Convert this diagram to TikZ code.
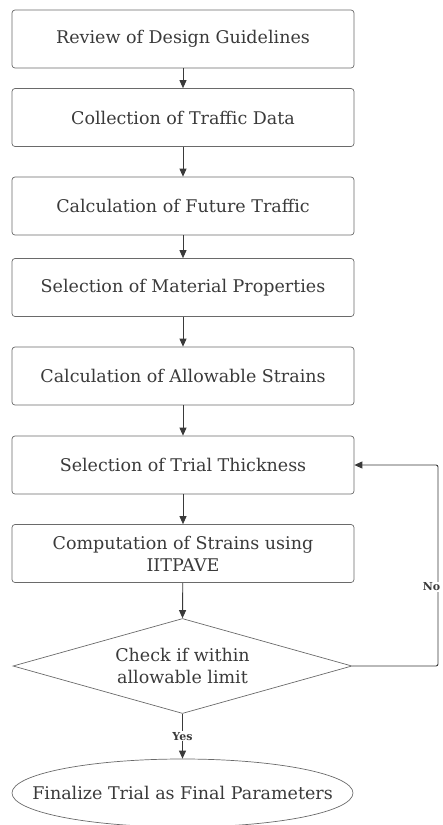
\documentclass[tikz,border=0pt]{standalone}
\usepackage{fontspec}
\setmainfont{DejaVu Serif}
\usetikzlibrary{shapes.geometric,arrows.meta}
\definecolor{boxline}{HTML}{6A6A6A}
\definecolor{inkgray}{HTML}{3A3A3A}
\begin{document}
\begin{tikzpicture}[x=1pt,y=-1pt]

    \tikzset{
      procbox/.style={
        draw=boxline,
        line width=0.7pt,
        rounded corners=3pt,
        minimum width=342pt,
        minimum height=58pt,
        inner sep=0pt,
        align=center,
        text=inkgray,
        font=\fontsize{17.5}{22}\selectfont,
      },
      decision/.style={
        draw=boxline,
        line width=0.7pt,
        diamond,
        aspect=3.57,
        minimum width=339pt,
        minimum height=95pt,
        inner sep=0pt,
        align=center,
        text=inkgray,
        font=\fontsize{17.5}{22}\selectfont,
      },
      terminal/.style={
        draw=boxline,
        line width=0.7pt,
        ellipse,
        minimum width=341pt,
        minimum height=68pt,
        inner xsep=-40pt,
        inner ysep=0pt,
        text=inkgray,
        font=\fontsize{17.5}{22}\selectfont,
      },
      flowline/.style={
        draw=inkgray,
        line width=0.9pt,
        -{Triangle[width=7pt,length=8pt]},
      },
      branchlabel/.style={
        fill=white,
        inner sep=1pt,
        text=inkgray,
        font=\fontsize{11}{13}\selectfont\bfseries,
      },
    }
    \useasboundingbox (0,0) rectangle (442,825);

	\node[procbox] (review) at (183,39) {Review of Design Guidelines};
	\node[procbox] (traffic) at (183,117.5) {Collection of Traffic Data};
	\node[procbox] (future) at (183,206) {Calculation of Future Traffic};
	\node[procbox] (material) at (183,287.5) {Selection of Material Properties};
	\node[procbox] (allowable) at (183,376) {Calculation of Allowable Strains};
	\node[procbox] (trial) at (183,465) {Selection of Trial Thickness};
	\node[procbox] (compute) at (183,553.5) {Computation of Strains using\\IITPAVE};
	\node[decision] (check) at (182.5,666) {Check if within\\allowable limit};
	\node[terminal] (final) at (182.5,793) {Finalize Trial as Final Parameters};
	\coordinate (loop) at (438,666);

	\draw[flowline] (review) -- (traffic);
	\draw[flowline] (traffic) -- (future);
	\draw[flowline] (future) -- (material);
	\draw[flowline] (material) -- (allowable);
	\draw[flowline] (allowable) -- (trial);
	\draw[flowline] (trial) -- (compute);
	\draw[flowline] (compute) -- (check.north);
	\draw[flowline] (check.south) -- node[branchlabel] (yes) {Yes} (final.north);
	\draw[flowline, rounded corners=2pt] (check.east) -- (loop) |- (trial.east);
	\node[branchlabel, anchor=east] (no) at (441.5,587) {No};

\end{tikzpicture}
\end{document}
